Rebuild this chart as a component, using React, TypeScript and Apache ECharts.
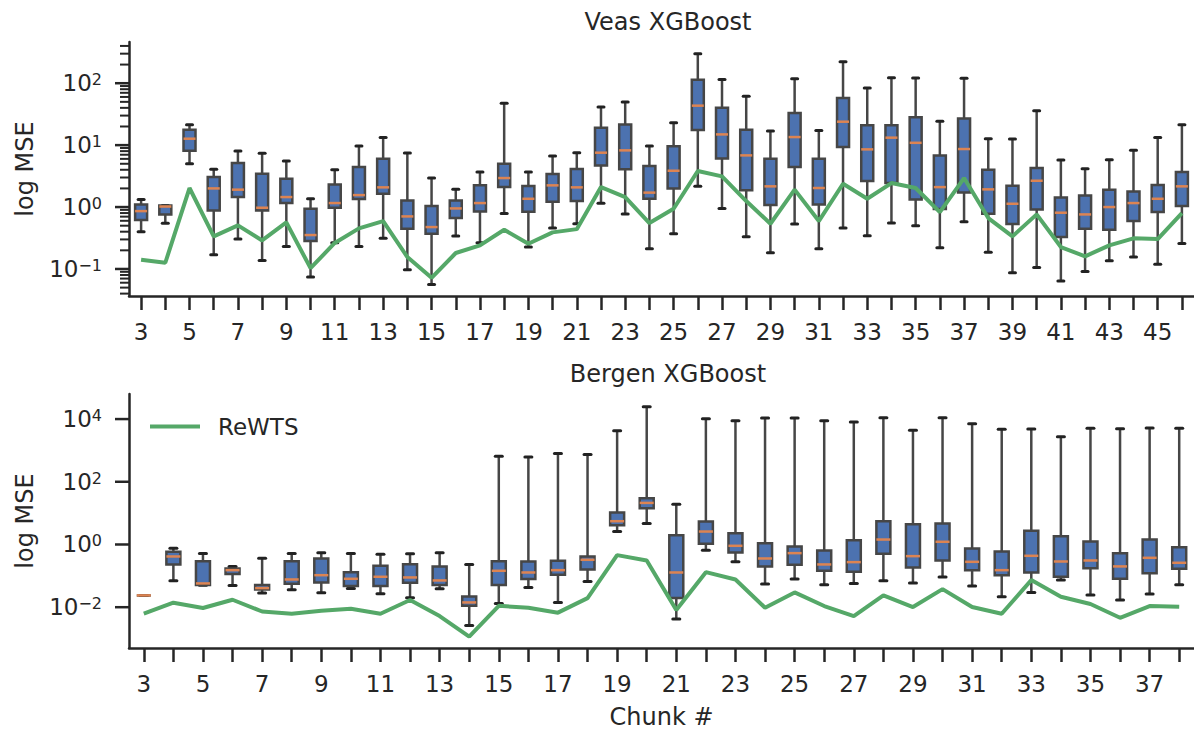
import React, { useEffect, useRef } from "react";
import * as echarts from "echarts";

// ---------------- data ----------------
const veasChunks = ["3","4","5","6","7","8","9","10","11","12","13","14","15","16","17","18","19","20","21","22","23","24","25","26","27","28","29","30","31","32","33","34","35","36","37","38","39","40","41","42","43","44","45","46"];
const veasMin = [0.40,0.545,5.0,0.17,0.304,0.137,0.23,0.074,0.265,0.23,0.312,0.097,0.056,0.34,0.265,0.79,0.226,0.458,0.538,1.15,0.77,0.212,0.371,2.16,0.95,0.332,0.183,0.531,0.212,0.458,0.344,0.552,0.499,0.22,0.58,0.187,0.087,0.106,0.064,0.091,0.136,0.156,0.119,0.259];
const veasQ1 = [0.62,0.76,8.13,0.88,1.45,0.88,1.16,0.282,0.976,1.35,1.64,0.447,0.371,0.664,0.851,2.10,0.84,1.22,1.25,4.71,4.06,1.36,2.0,17.5,6.11,1.86,1.08,4.43,1.10,9.31,2.63,2.44,1.33,0.928,1.71,0.78,0.531,0.916,0.327,0.447,0.43,0.594,0.83,1.04];
const veasMed = [0.86,1.02,12.7,2.0,1.91,0.975,1.45,0.353,1.16,1.56,2.08,0.706,0.475,0.95,1.16,2.94,1.36,2.24,2.08,7.55,8.23,1.71,3.86,43.4,14.9,6.83,2.16,13.5,2.03,23.9,8.54,13.2,10.9,2.10,8.65,1.93,1.13,2.66,0.81,0.76,1.0,1.16,1.36,2.16];
const veasQ3 = [1.10,1.06,17.7,3.05,5.14,3.46,2.87,0.94,2.32,4.43,6.04,1.27,1.04,1.28,2.24,5.01,2.18,3.41,4.11,19.1,21.6,4.59,9.55,114,40.3,17.7,6.04,33,6.04,57.7,20.9,20.9,28.1,6.83,26.8,4.01,2.21,4.27,1.43,1.54,1.91,1.79,2.27,3.68];
const veasMax = [1.33,1.06,21.4,4.06,8.03,7.36,5.53,1.36,4.01,9.67,13.3,7.45,2.94,1.93,3.68,47.3,3.68,6.67,7.55,41.2,49.7,9.67,23.0,300,115,61.4,16.9,118,17.3,223,83.6,123,121,24.2,120,12.7,12.6,36,5.74,4.16,5.82,8.23,13.3,21.4];
const veasReWTS = [0.141,0.126,2.03,0.336,0.506,0.289,0.565,0.103,0.263,0.452,0.594,0.156,0.072,0.181,0.24,0.43,0.256,0.39,0.44,2.10,1.45,0.552,0.94,3.82,3.13,1.25,0.538,1.91,0.594,2.38,1.36,2.44,2.03,0.83,2.94,0.664,0.336,0.762,0.226,0.16,0.24,0.312,0.304,0.80];

const bergenChunks = ["3","4","5","6","7","8","9","10","11","12","13","14","15","16","17","18","19","20","21","22","23","24","25","26","27","28","29","30","31","32","33","34","35","36","37","38"];
const bergenMin = [0.0238,0.0697,0.05,0.0494,0.0282,0.036,0.0289,0.0397,0.0269,0.02,0.0387,0.0026,0.0132,0.0427,0.0142,0.0663,2.59,4.67,0.0042,0.66,0.28,0.0546,0.0787,0.0519,0.0573,0.0697,0.0587,0.0912,0.0471,0.0216,0.0296,0.0731,0.0243,0.0169,0.0262,0.0519];
const bergenQ1 = [0.0238,0.231,0.0507,0.114,0.0369,0.0559,0.0616,0.0471,0.0471,0.0601,0.0507,0.0111,0.0507,0.0787,0.108,0.16,4.13,14.4,0.0195,1.05,0.556,0.2,0.225,0.145,0.135,0.505,0.185,0.309,0.152,0.105,0.128,0.0934,0.176,0.0806,0.122,0.168];
const bergenMed = [0.0238,0.415,0.0573,0.152,0.0407,0.0767,0.105,0.0806,0.0934,0.0889,0.0714,0.0142,0.145,0.128,0.152,0.325,5.53,21.2,0.128,2.59,0.908,0.358,0.53,0.231,0.274,1.44,0.425,1.22,0.28,0.152,0.436,0.287,0.309,0.2,0.376,0.261];
const bergenQ3 = [0.0238,0.584,0.294,0.172,0.0507,0.294,0.358,0.131,0.209,0.236,0.2,0.0221,0.294,0.287,0.302,0.415,10.4,29.9,1.98,5.4,2.3,1.10,0.863,0.644,1.37,5.53,4.44,4.67,0.746,0.598,2.72,1.84,1.25,0.53,1.44,0.822];
const bergenMax = [0.0238,0.764,0.517,0.2,0.367,0.517,0.543,0.517,0.492,0.505,0.543,0.231,650,620,791,735,4275,24800,19.3,10300,8900,10800,10800,8900,8070,11100,4375,11100,7140,4710,4830,2750,5070,4950,5190,5070];
const bergenReWTS = [0.0062,0.0139,0.0094,0.0173,0.0073,0.0062,0.0077,0.0089,0.0062,0.0169,0.0052,0.00115,0.0111,0.0096,0.0067,0.0195,0.457,0.309,0.0081,0.131,0.0767,0.0096,0.0296,0.0109,0.0052,0.0238,0.0101,0.0378,0.0101,0.0062,0.0731,0.0216,0.0126,0.0046,0.0109,0.0103];

const veasMajorTicks = [0.1, 1, 10, 100];
const veasMinorTicks = [0.04,0.05,0.06,0.07,0.08,0.09,0.2,0.3,0.4,0.5,0.6,0.7,0.8,0.9,2,3,4,5,6,7,8,9,20,30,40,50,60,70,80,90,200,300,400];
const bergenMajorTicks = [0.01, 1, 100, 10000];

// ---------------- styles ----------------
const FONT = "DejaVu Sans";
const TXT = "#262626";
const BLUE = "#4C72B0";
const EDGE = "#464646";
const CAPC = "#222222";
const ORANGE = "#DD8452";
const GREEN = "#55A868";

function boxRenderer(widthPx: number) {
  return (params: any, api: any) => {
    const x = api.value(0);
    const pLo = api.coord([x, api.value(1)]);
    const pQ1 = api.coord([x, api.value(2)]);
    const pMed = api.coord([x, api.value(3)]);
    const pQ3 = api.coord([x, api.value(4)]);
    const pHi = api.coord([x, api.value(5)]);
    const cx = pMed[0];
    const half = widthPx / 2;
    const capHalf = widthPx / 4;
    const wl = { stroke: EDGE, lineWidth: 2.5 };
    const cl = { stroke: CAPC, lineWidth: 3, lineCap: "round" };
    return {
      type: "group",
      children: [
        { type: "line", shape: { x1: cx, y1: pHi[1], x2: cx, y2: pQ3[1] }, style: wl },
        { type: "line", shape: { x1: cx, y1: pQ1[1], x2: cx, y2: pLo[1] }, style: wl },
        { type: "line", shape: { x1: cx - capHalf, y1: pHi[1], x2: cx + capHalf, y2: pHi[1] }, style: cl },
        { type: "line", shape: { x1: cx - capHalf, y1: pLo[1], x2: cx + capHalf, y2: pLo[1] }, style: cl },
        { type: "rect", shape: { x: cx - half, y: pQ3[1], width: widthPx, height: pQ1[1] - pQ3[1] }, style: { fill: BLUE, stroke: EDGE, lineWidth: 2.5 } },
        { type: "line", shape: { x1: cx - half, y1: pMed[1], x2: cx + half, y2: pMed[1] }, style: { stroke: ORANGE, lineWidth: 2.5 } },
      ],
    };
  };
}

// y-axis tick marks, placed through the axis scale at each tick value
function yTickRenderer(len: number, width: number) {
  return (params: any, api: any) => {
    const p = api.coord([0, api.value(1)]);
    const x0 = params.coordSys.x;
    return {
      type: "line",
      shape: { x1: x0 - len, y1: p[1], x2: x0, y2: p[1] },
      style: { stroke: TXT, lineWidth: width },
    };
  };
}

function expLabel(v: number) {
  const e = Math.round(Math.log10(v));
  const s = e < 0 ? "\u2212" + -e : String(e);
  return `{b|10}{s|${s}}`;
}

const richLabel = {
  b: { fontSize: 23, color: TXT, fontFamily: FONT },
  s: { fontSize: 16, color: TXT, fontFamily: FONT, verticalAlign: "top" },
};

export default function App() {
  const ref = useRef<HTMLDivElement>(null);
  useEffect(() => {
    if (!ref.current) return;
    const chart = echarts.init(ref.current, undefined, { renderer: "svg" });

    const veasBox = veasMin.map((v, i) => [i, v, veasQ1[i], veasMed[i], veasQ3[i], veasMax[i]]);
    const bergenBox = bergenMin.map((v, i) => [i, v, bergenQ1[i], bergenMed[i], bergenQ3[i], bergenMax[i]]);

    const oddHidden = (value: string, index: number) => (index % 2 === 0 ? value : "");

    const xAxisBase = (data: string[], gridIndex: number, tick: any) => ({
      type: "category",
      gridIndex,
      data,
      boundaryGap: true,
      axisLine: { show: true, onZero: false, lineStyle: { color: TXT, width: 2.5 } },
      axisTick: tick,
      axisLabel: { interval: 0, formatter: oddHidden, margin: 24, color: TXT, fontSize: 23, fontFamily: FONT },
      splitLine: { show: false },
    });

    const yMajor = (gridIndex: number, min: number, max: number, ticks: number[]) => ({
      type: "log",
      logBase: 10,
      gridIndex,
      min,
      max,
      name: "log MSE",
      nameLocation: "middle",
      nameGap: 92,
      nameTextStyle: { fontSize: 24, color: TXT, fontFamily: FONT },
      axisLine: { show: true, lineStyle: { color: TXT, width: 2.5 } },
      axisTick: { show: false },
      axisLabel: { customValues: ticks, margin: 27, formatter: expLabel, rich: richLabel, color: TXT },
      splitLine: { show: false },
      minorTick: { show: false },
    });

    const tickSeries = (xi: number, yi: number, values: number[], len: number, width: number) => ({
      type: "custom",
      xAxisIndex: xi,
      yAxisIndex: yi,
      silent: true,
      clip: false,
      renderItem: yTickRenderer(len, width),
      encode: { x: 0, y: 1 },
      data: values.map((v) => [0, v]),
      z: 5,
    });

    const option: any = {
      animation: false,
      backgroundColor: "#ffffff",
      title: [
        { text: "Veas XGBoost", left: 663, top: 5, textAlign: "center", textStyle: { fontSize: 24, fontWeight: "normal", color: TXT, fontFamily: FONT } },
        { text: "Bergen XGBoost", left: 663, top: 357, textAlign: "center", textStyle: { fontSize: 24, fontWeight: "normal", color: TXT, fontFamily: FONT } },
      ],
      legend: {
        data: ["ReWTS"],
        left: 150,
        top: 415,
        padding: 0,
        icon: "rect",
        itemWidth: 50,
        itemHeight: 4,
        textStyle: { fontSize: 23, color: TXT, fontFamily: FONT, padding: [0, 0, 0, 13] },
      },
      grid: [
        { left: 129, top: 42, width: 1069, height: 254 },
        { left: 129, top: 394, width: 1069, height: 254 },
      ],
      xAxis: [
        xAxisBase(veasChunks, 0, { show: true, interval: 0, alignWithLabel: true, length: 14, lineStyle: { color: TXT, width: 2.5 } }),
        {
          ...xAxisBase(bergenChunks, 1, { show: true, alignWithLabel: true, length: 14, lineStyle: { color: TXT, width: 2.5 } }),
          name: "Chunk #", nameLocation: "middle", nameGap: 57,
          nameTextStyle: { fontSize: 24, color: TXT, fontFamily: FONT },
        },
      ],
      yAxis: [
        yMajor(0, 0.0366, 463, veasMajorTicks),
        yMajor(1, 0.0005, 63000, bergenMajorTicks),
      ],
      series: [
        { type: "custom", xAxisIndex: 0, yAxisIndex: 0, renderItem: boxRenderer(12), encode: { x: 0, y: [1, 2, 3, 4, 5] }, data: veasBox, z: 2 },
        { type: "line", name: "ReWTS", xAxisIndex: 0, yAxisIndex: 0, data: veasReWTS, symbol: "none", lineStyle: { color: GREEN, width: 4 }, itemStyle: { color: GREEN }, z: 3 },
        { type: "custom", xAxisIndex: 1, yAxisIndex: 1, renderItem: boxRenderer(14), encode: { x: 0, y: [1, 2, 3, 4, 5] }, data: bergenBox, z: 2 },
        { type: "line", name: "ReWTS", xAxisIndex: 1, yAxisIndex: 1, data: bergenReWTS, symbol: "none", lineStyle: { color: GREEN, width: 4 }, itemStyle: { color: GREEN }, z: 3 },
        tickSeries(0, 0, veasMajorTicks, 14, 2.5),
        tickSeries(0, 0, veasMinorTicks, 9, 2),
        tickSeries(1, 1, bergenMajorTicks, 14, 2.5),
      ],
    };
    chart.setOption(option);
    return () => chart.dispose();
  }, []);

  return (
    <div
      ref={ref}
      style={{ position: "fixed", left: 0, top: 0, width: 1194, height: 731, background: "#fff" }}
    />
  );
}
